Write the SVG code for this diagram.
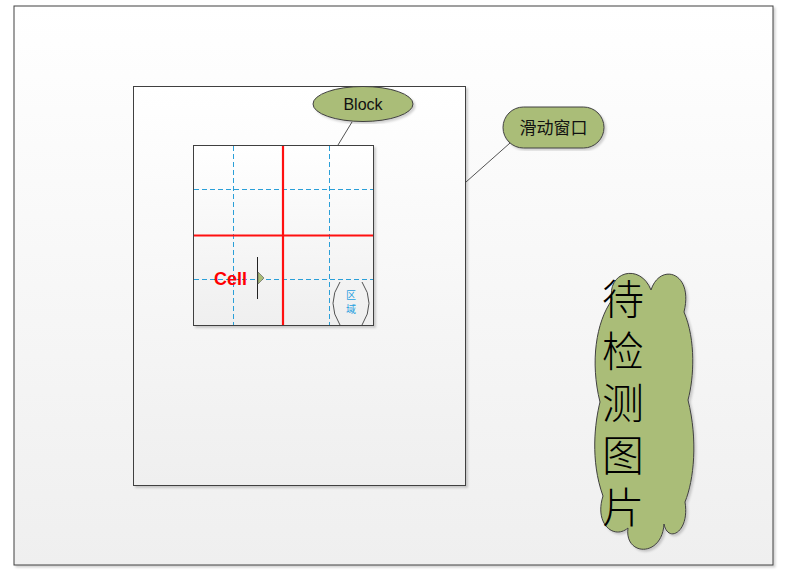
<svg xmlns="http://www.w3.org/2000/svg" width="791" height="578" viewBox="0 0 791 578">
<defs>
<linearGradient id="bg" x1="0" y1="0" x2="0" y2="1">
<stop offset="0" stop-color="#ffffff"/>
<stop offset="1" stop-color="#efefef"/>
</linearGradient>
<filter id="sh" x="-5%" y="-5%" width="110%" height="110%">
<feDropShadow dx="2" dy="2" stdDeviation="1.2" flood-color="#000" flood-opacity="0.18"/>
</filter>
<style>
.frame{stroke:#404040;stroke-width:1;fill:url(#bg)}
.dash{stroke:#2a9fd8;stroke-width:1;stroke-dasharray:5,3;fill:none}
.red{stroke:#ff1010;stroke-width:2.2;fill:none}
.green{fill:#aabd78;stroke:#404040;stroke-width:1}
.conn{stroke:#404040;stroke-width:0.9;fill:none}
.lbl{font-family:"Liberation Sans",Arial,sans-serif;font-size:16px;fill:#111}
.vert{writing-mode:vertical-rl;letter-spacing:10px}
</style>
</defs>
<rect width="791" height="578" fill="#ffffff"/>
<g id="image">
<rect class="frame" x="14" y="6" width="759" height="559" filter="url(#sh)"/>
</g>
<g id="window">
<rect class="frame" x="133.5" y="86.5" width="332" height="399" filter="url(#sh)"/>
</g>
<g id="block">
<rect class="frame" x="193.5" y="145.5" width="180" height="180" filter="url(#sh)"/>
<line class="dash" x1="233.5" y1="146" x2="233.5" y2="325"/>
<line class="dash" x1="329.5" y1="146" x2="329.5" y2="325"/>
<line class="dash" x1="194" y1="189.5" x2="373" y2="189.5"/>
<line class="dash" x1="194" y1="279.5" x2="373" y2="279.5"/>
<line class="red" x1="283" y1="146" x2="283" y2="325"/>
<line class="red" x1="194" y1="235.5" x2="373" y2="235.5"/>
</g>
<g id="cell">
<text x="214" y="285" font-family="'Liberation Sans',Arial,sans-serif" font-size="18" font-weight="bold" fill="#ff0000">Cell</text>
<line x1="257.5" y1="257" x2="257.5" y2="299" stroke="#222" stroke-width="1"/>
<path d="M258,272 L264,278 L258,284 Z" fill="#aabd78" stroke="#555" stroke-width="0.6"/>
</g>
<g id="region">
<path class="conn" d="M340,282 Q326,303 340,325"/>
<path class="conn" d="M362,282 Q376,303 362,325"/>
<text x="351" y="299" text-anchor="middle" font-family="'Noto Sans CJK SC',sans-serif" font-size="10" fill="#29a0e0">区</text>
<text x="351" y="313" text-anchor="middle" font-family="'Noto Sans CJK SC',sans-serif" font-size="10" fill="#29a0e0">域</text>
</g>
<g id="connectors">
<line class="conn" x1="352" y1="122" x2="338" y2="145"/>
<line class="conn" x1="510" y1="143" x2="466" y2="182"/>
</g>
<g id="block-label">
<ellipse class="green" cx="363" cy="104" rx="50" ry="17.5" filter="url(#sh)"/>
<text class="lbl" x="363" y="110" text-anchor="middle">Block</text>
</g>
<g id="window-label">
<rect class="green" x="503" y="107" width="101" height="41" rx="20.5" ry="20.5" filter="url(#sh)"/>
<text x="553.5" y="134" text-anchor="middle" font-family="'Noto Sans CJK SC',sans-serif" font-size="17" fill="#111">滑动窗口</text>
</g>
<g id="cloud">
<path class="green" filter="url(#sh)" d="M612,300 C606,272 640,262 651,290 C660,262 694,272 684,312 C696,340 694,378 688,400 C698,440 694,480 685,502 C690,532 668,544 664,524 C662,558 624,556 628,528 C614,540 594,524 603,496 C590,460 595,422 600,402 C590,362 596,322 612,300 Z"/>
<text class="vert" x="623" y="278" font-family="'Noto Sans CJK SC',sans-serif" font-size="42" font-weight="300" fill="#000">待检测图片</text>
</g>
</svg>
